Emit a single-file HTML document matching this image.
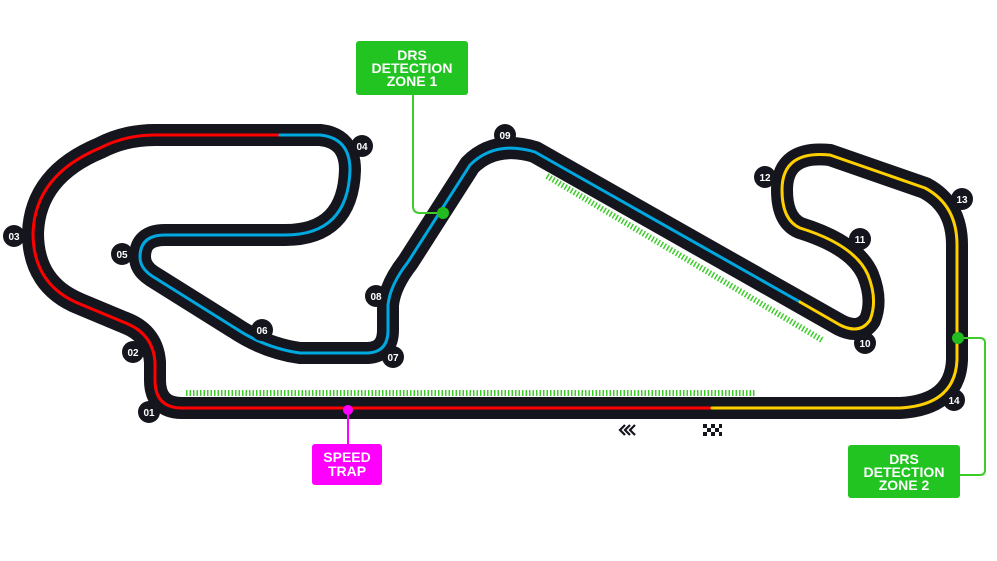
<!DOCTYPE html>
<html><head><meta charset="utf-8"><style>
html,body{margin:0;padding:0;background:#fff;}
svg{display:block;}
.lbl{font-family:"Liberation Sans",sans-serif;font-weight:bold;font-size:10px;fill:#fff;text-anchor:middle;}
.box{font-family:"Liberation Sans",sans-serif;font-weight:bold;fill:#fff;text-anchor:middle;font-size:14px;}
</style></head><body>
<svg width="997" height="561" viewBox="0 0 997 561" xmlns="http://www.w3.org/2000/svg">
<!-- DRS zones -->
<line x1="186" y1="393" x2="755" y2="393" stroke="#3dcc2a" stroke-width="6" stroke-dasharray="1.5 2"/>
<line x1="547" y1="176" x2="822" y2="340" stroke="#3dcc2a" stroke-width="6" stroke-dasharray="1.5 2"/>
<g fill="none" stroke-linecap="round" stroke-linejoin="round">
<!-- track base -->
<path d="M712 408 L182 408 Q155 408 155 380 L155 362 Q153 335 128 324 L80 304 Q33 285 33 233 Q35 175 100 148 Q125 135 155 135 L320 135 Q350 138 350 170 Q348 235 285 235 L165 235 Q140 235 140 257 Q140 268 152 276 L235 328 Q265 348 300 353 L368 353 Q388 352 388 330 L388 305 Q390 285 408 262 L470 165 Q495 140 535 152 L840 325 Q860 335 870 320 Q878 300 868 275 Q855 245 800 228 Q782 220 782 190 Q782 150 830 155 L925 188 Q957 205 957 245 L957 360 Q955 405 900 408 L712 408" stroke="#15151e" stroke-width="22"/>
<!-- colored lines -->
<path d="M712 408 L182 408 Q155 408 155 380 L155 362 Q153 335 128 324 L80 304 Q33 285 33 233 Q35 175 100 148 Q125 135 155 135 L280 135" stroke="#ff0000" stroke-width="3"/>
<path d="M280 135 L320 135 Q350 138 350 170 Q348 235 285 235 L165 235 Q140 235 140 257 Q140 268 152 276 L235 328 Q265 348 300 353 L368 353 Q388 352 388 330 L388 305 Q390 285 408 262 L470 165 Q495 140 535 152 L800 302" stroke="#00a8e0" stroke-width="3"/>
<path d="M800 302 L840 325 Q860 335 870 320 Q878 300 868 275 Q855 245 800 228 Q782 220 782 190 Q782 150 830 155 L925 188 Q957 205 957 245 L957 360 Q955 405 900 408 L712 408" stroke="#ffd000" stroke-width="3"/>
<!-- connectors -->
<path d="M413 95 L413 206 Q413 213 420 213 L443 213" stroke="#3dcc2a" stroke-width="2"/>
<path d="M958 338 L980 338 Q985 338 985 343 L985 470 Q985 475 980 475 L960 475" stroke="#3dcc2a" stroke-width="2"/>
<path d="M348 410 L348 444" stroke="#ff00ff" stroke-width="2"/>
</g>
<circle cx="443" cy="213" r="6" fill="#22bb22"/>
<circle cx="958" cy="338" r="6" fill="#22bb22"/>
<circle cx="348" cy="410" r="5" fill="#ff00ff"/>
<!-- turn labels -->
<g>
<circle cx="149" cy="412" r="11" fill="#15151e"/><text class="lbl" x="149" y="416">01</text>
<circle cx="133" cy="352" r="11" fill="#15151e"/><text class="lbl" x="133" y="356">02</text>
<circle cx="14" cy="236" r="11" fill="#15151e"/><text class="lbl" x="14" y="240">03</text>
<circle cx="362" cy="146" r="11" fill="#15151e"/><text class="lbl" x="362" y="150">04</text>
<circle cx="122" cy="254" r="11" fill="#15151e"/><text class="lbl" x="122" y="258">05</text>
<circle cx="262" cy="330" r="11" fill="#15151e"/><text class="lbl" x="262" y="334">06</text>
<circle cx="393" cy="357" r="11" fill="#15151e"/><text class="lbl" x="393" y="361">07</text>
<circle cx="376" cy="296" r="11" fill="#15151e"/><text class="lbl" x="376" y="300">08</text>
<circle cx="505" cy="135" r="11" fill="#15151e"/><text class="lbl" x="505" y="139">09</text>
<circle cx="865" cy="343" r="11" fill="#15151e"/><text class="lbl" x="865" y="347">10</text>
<circle cx="860" cy="239" r="11" fill="#15151e"/><text class="lbl" x="860" y="243">11</text>
<circle cx="765" cy="177" r="11" fill="#15151e"/><text class="lbl" x="765" y="181">12</text>
<circle cx="962" cy="199" r="11" fill="#15151e"/><text class="lbl" x="962" y="203">13</text>
<circle cx="954" cy="400" r="11" fill="#15151e"/><text class="lbl" x="954" y="404">14</text>
</g>
<!-- chevrons & flag -->
<g fill="none" stroke="#15151e" stroke-width="2.2">
<path d="M625 425 L620 430 L625 435 M630 425 L625 430 L630 435 M635 425 L630 430 L635 435"/>
</g>
<g fill="#15151e">
<rect x="703" y="424" width="4" height="4"/><rect x="711" y="424" width="4" height="4"/><rect x="719" y="424" width="3" height="4"/>
<rect x="707" y="428" width="4" height="4"/><rect x="715" y="428" width="4" height="4"/>
<rect x="703" y="432" width="4" height="4"/><rect x="711" y="432" width="4" height="4"/><rect x="719" y="432" width="3" height="4"/>
</g>
<!-- boxes -->
<rect x="356" y="41" width="112" height="54" rx="3" fill="#21c421"/>
<text class="box" x="412" y="60">DRS</text><text class="box" x="412" y="73">DETECTION</text><text class="box" x="412" y="86">ZONE 1</text>
<rect x="848" y="445" width="112" height="53" rx="3" fill="#21c421"/>
<text class="box" x="904" y="464">DRS</text><text class="box" x="904" y="477">DETECTION</text><text class="box" x="904" y="490">ZONE 2</text>
<rect x="312" y="444" width="70" height="41" rx="3" fill="#ff00ff"/>
<text class="box" x="347" y="462">SPEED</text><text class="box" x="347" y="476">TRAP</text>
</svg>
</body></html>
